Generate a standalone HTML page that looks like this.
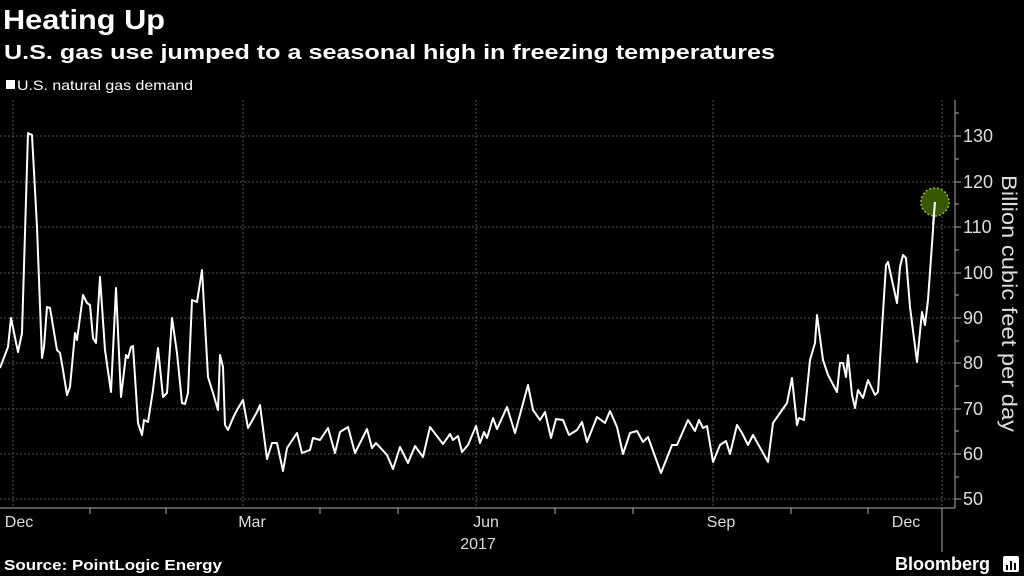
<!DOCTYPE html>
<html><head><meta charset="utf-8"><style>
body{margin:0;background:#000;width:1024px;height:576px;overflow:hidden;font-family:"Liberation Sans",sans-serif;color:#fff}
</style></head><body>
<svg width="1024" height="576" xmlns="http://www.w3.org/2000/svg" style="position:absolute;left:0;top:0">
<text x="3" y="29" font-size="28" font-weight="bold" fill="#fff" textLength="162" lengthAdjust="spacingAndGlyphs">Heating Up</text>
<text x="4" y="59" font-size="20" font-weight="bold" fill="#fff" textLength="771" lengthAdjust="spacingAndGlyphs">U.S. gas use jumped to a seasonal high in freezing temperatures</text>
<rect x="6" y="80" width="9" height="9" fill="#fff"/>
<text x="17" y="90" font-size="14" fill="#fff" textLength="176" lengthAdjust="spacingAndGlyphs">U.S. natural gas demand</text>
<g stroke="#555" stroke-width="1" stroke-dasharray="2,2">
<line x1="0" x2="955" y1="136" y2="136"/><line x1="0" x2="955" y1="182" y2="182"/>
<line x1="0" x2="955" y1="227" y2="227"/><line x1="0" x2="955" y1="273" y2="273"/>
<line x1="0" x2="955" y1="318" y2="318"/><line x1="0" x2="955" y1="363" y2="363"/>
<line x1="0" x2="955" y1="409" y2="409"/><line x1="0" x2="955" y1="454" y2="454"/>
<line x1="0" x2="955" y1="499" y2="499"/>
<line x1="13" x2="13" y1="100" y2="508"/><line x1="243" x2="243" y1="100" y2="508"/>
<line x1="476" x2="476" y1="100" y2="508"/><line x1="713" x2="713" y1="100" y2="508"/>
<line x1="942" x2="942" y1="100" y2="508"/>
</g>
<g stroke="#aaa" stroke-width="1" fill="none">
<line x1="0" x2="955" y1="508" y2="508"/>
<line x1="955" x2="955" y1="100" y2="508"/>
<line x1="942" x2="942" y1="508" y2="552"/>
<line x1="90" x2="90" y1="508" y2="514"/><line x1="166" x2="166" y1="508" y2="514"/>
<line x1="320" x2="320" y1="508" y2="514"/><line x1="398" x2="398" y1="508" y2="514"/>
<line x1="555" x2="555" y1="508" y2="514"/><line x1="633" x2="633" y1="508" y2="514"/>
<line x1="791" x2="791" y1="508" y2="514"/><line x1="868" x2="868" y1="508" y2="514"/>
<line x1="955" x2="961" y1="136" y2="136"/><line x1="955" x2="961" y1="182" y2="182"/>
<line x1="955" x2="961" y1="227" y2="227"/><line x1="955" x2="961" y1="273" y2="273"/>
<line x1="955" x2="961" y1="318" y2="318"/><line x1="955" x2="961" y1="363" y2="363"/>
<line x1="955" x2="961" y1="409" y2="409"/><line x1="955" x2="961" y1="454" y2="454"/>
<line x1="955" x2="961" y1="499" y2="499"/>
<line x1="955" x2="959" y1="113" y2="113"/><line x1="955" x2="959" y1="159" y2="159"/>
<line x1="955" x2="959" y1="204" y2="204"/><line x1="955" x2="959" y1="250" y2="250"/>
<line x1="955" x2="959" y1="295" y2="295"/><line x1="955" x2="959" y1="341" y2="341"/>
<line x1="955" x2="959" y1="386" y2="386"/><line x1="955" x2="959" y1="431" y2="431"/>
<line x1="955" x2="959" y1="477" y2="477"/>
</g>
<g font-size="18" fill="#ddd">
<text x="963" y="142">130</text><text x="963" y="188">120</text><text x="963" y="233">110</text>
<text x="963" y="279">100</text><text x="963" y="324">90</text><text x="963" y="369">80</text>
<text x="963" y="415">70</text><text x="963" y="460">60</text><text x="963" y="505">50</text>
</g>
<text transform="translate(1002,175) rotate(90)" font-size="21" fill="#ddd" textLength="257" lengthAdjust="spacingAndGlyphs">Billion cubic feet per day</text>
<g font-size="16" fill="#ddd" text-anchor="middle">
<text x="19" y="527">Dec</text><text x="252" y="527">Mar</text><text x="486" y="527">Jun</text>
<text x="721" y="527">Sep</text><text x="906" y="527">Dec</text><text x="478" y="549">2017</text>
</g>
<polyline fill="none" stroke="#fff" stroke-width="2" stroke-linejoin="round" points="0,368 8,347 11,318 18,352 22,333 28,133 32,135 37,227 42,358 44,347 47,307 50,308 57,350 60,353 63,370 67,395 70,387 75,333 77,340 83,295 87,303 90,305 93,338 96,343 100,277 105,350 111,392 116,288 121,397 126,355 128,358 131,347 133,346 138,423 142,435 144,420 148,422 153,390 158,348 163,397 167,393 172,318 177,353 182,403 185,404 188,393 192,300 197,302 202,270 208,377 213,393 218,410 220,355 223,367 225,425 228,430 233,418 237,410 243,400 248,428 257,412 260,405 267,459 272,443 277,443 283,471 287,448 297,433 302,453 310,450 313,438 320,440 328,428 335,453 340,432 348,427 355,453 360,443 367,429 372,448 376,443 387,455 393,469 400,447 408,463 415,446 423,457 430,427 443,444 450,434 453,440 458,436 462,452 468,445 476,426 480,443 484,432 487,438 493,418 497,429 507,407 515,433 528,385 533,410 540,420 545,412 551,438 556,419 563,420 569,435 577,430 582,422 587,442 597,417 605,423 610,411 617,427 623,454 630,433 637,431 643,442 648,437 661,473 672,445 677,445 688,420 695,431 699,420 703,428 707,426 713,462 720,445 726,441 730,454 737,425 742,433 748,445 753,435 768,462 773,423 780,413 787,403 792,378 797,425 799,418 804,420 810,360 815,343 817,315 823,360 828,375 837,392 840,363 843,363 846,377 848,355 852,395 855,408 858,390 863,398 868,380 875,395 878,392 886,265 888,262 897,303 900,267 903,255 906,258 910,307 917,362 922,312 925,325 928,300 935,202"/>
<circle cx="935" cy="202" r="14" fill="#3f5f00" fill-opacity="0.9" stroke="#8fc31f" stroke-width="1.5" stroke-dasharray="2,2"/>
<line x1="935" y1="202" x2="933" y2="225" stroke="#fff" stroke-width="2"/>
<text x="4" y="570" font-size="15" font-weight="bold" fill="#fff" textLength="218" lengthAdjust="spacingAndGlyphs">Source: PointLogic Energy</text>
<text x="895" y="570" font-size="18" font-weight="bold" fill="#fff">Bloomberg</text>
<rect x="1003" y="556" width="16" height="16" fill="#fff" rx="2"/>
<g fill="#000"><rect x="1006" y="565" width="2" height="5"/><rect x="1010" y="561" width="2" height="9"/><rect x="1014" y="563" width="2" height="7"/></g>
</svg>
</body></html>
